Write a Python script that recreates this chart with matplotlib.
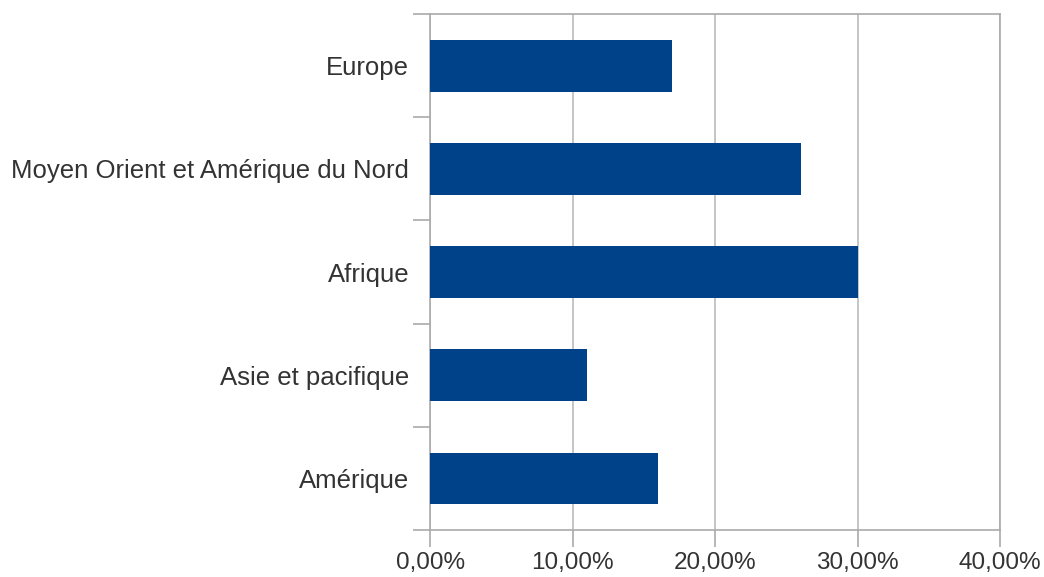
import matplotlib.pyplot as plt
from matplotlib.ticker import FuncFormatter

categories = ['Amérique', 'Asie et pacifique', 'Afrique',
              'Moyen Orient et Amérique du Nord', 'Europe']
values = [16, 11, 30, 26, 17]
xticks = [0, 10, 20, 30, 40]

plt.rcParams['font.family'] = ['Liberation Sans', 'DejaVu Sans']

fig = plt.figure(figsize=(10.44, 5.77), dpi=100)
ax = fig.add_axes([0.412, 0.0815, 0.546, 0.894])

pos = range(len(categories))
ax.barh(pos, values, height=0.5, color='#00428a', zorder=3)

ax.set_xlim(0, 40)
ax.set_ylim(-0.5, len(categories) - 0.5)
ax.set_xticks(xticks)
ax.xaxis.set_major_formatter(FuncFormatter(lambda v, p: ('%.2f%%' % v).replace('.', ',')))
ax.set_yticks(pos)
ax.set_yticklabels(categories)
# tick marks sit between the categories
ax.set_yticks([i + 0.5 for i in range(-1, len(categories))], minor=True)
ax.tick_params(axis='y', which='major', length=0, pad=15, labelsize=18.5, colors='#333333')
ax.tick_params(axis='y', which='minor', length=12, color='#aaaaaa', width=1.2)
ax.tick_params(axis='x', length=12, width=1.2, labelsize=17.5,
               colors='#333333', pad=4)
ax.tick_params(axis='x', color='#aaaaaa')

ax.grid(axis='x', color='#bbbbbb', lw=1.2, zorder=0)
for s in ax.spines.values():
    s.set_color('#aaaaaa')
    s.set_linewidth(1.2)

fig.savefig('out.png', dpi=100)
